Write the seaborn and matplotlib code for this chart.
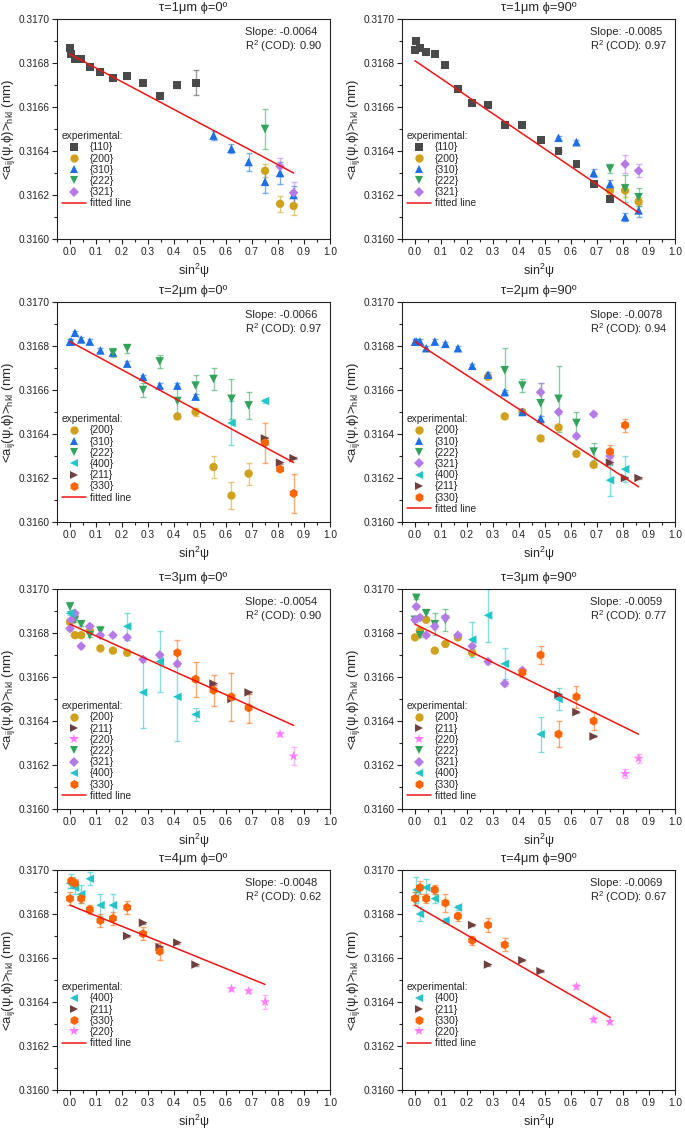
import matplotlib
matplotlib.use("Agg")
import matplotlib.pyplot as plt
import matplotlib.ticker as ticker
from matplotlib.lines import Line2D
import seaborn as sns

# panel headers and fit results
TITLES = ["τ=1μm ϕ=0º", "τ=1μm ϕ=90º", "τ=2μm ϕ=0º", "τ=2μm ϕ=90º",
          "τ=3μm ϕ=0º", "τ=3μm ϕ=90º", "τ=4μm ϕ=0º", "τ=4μm ϕ=90º"]
SLOPES = ["-0.0064", "-0.0085", "-0.0066", "-0.0078", "-0.0054", "-0.0059", "-0.0048", "-0.0069"]
R2 = ["0.90", "0.97", "0.97", "0.94", "0.90", "0.77", "0.62", "0.67"]
FIT_X = [[0.0, 0.86], [0.0, 0.86], [0.0, 0.86], [0.0, 0.86],
         [0.0, 0.86], [0.0, 0.86], [0.0, 0.75], [0.0, 0.75]]
FIT_Y = [[0.31684, 0.31630], [0.31681, 0.31612], [0.31682, 0.31627], [0.31682, 0.31616],
         [0.31684, 0.31638], [0.31684, 0.31634], [0.31684, 0.31648], [0.31684, 0.31633]]

# each series: (sin^2 psi, <a>, error)
P1 = {
    "{110}": ([0.0, 0.005, 0.019, 0.043, 0.076, 0.117, 0.165, 0.220, 0.281, 0.345, 0.413, 0.483],
              [0.31687, 0.31684, 0.31682, 0.31682, 0.31678, 0.31676, 0.31673, 0.31674, 0.31671, 0.31665, 0.31670, 0.31671],
              [0.000005, 0.000005, 0.000005, 0.000005, 0.000005, 0.000005, 0.000005, 0.000005, 0.000005, 0.000005, 0.000015, 0.000057]),
    "{200}": ([0.750, 0.808, 0.860], [0.31631, 0.31616, 0.31615], [0.00003, 0.000035, 0.00004]),
    "{310}": ([0.552, 0.621, 0.687, 0.750, 0.808, 0.860],
              [0.31647, 0.31641, 0.31635, 0.31626, 0.31630, 0.31620],
              [0.00002, 0.00002, 0.00004, 0.00005, 0.00005, 0.00004]),
    "{222}": ([0.750], [0.31650], [0.00009]),
    "{321}": ([0.808, 0.860], [0.31633, 0.31621], [0.00004, 0.00005]),
}
P2 = {
    "{110}": ([0.0, 0.005, 0.019, 0.043, 0.076, 0.117, 0.165, 0.220, 0.281, 0.345, 0.413, 0.483, 0.552, 0.621, 0.687, 0.750],
              [0.31686, 0.31690, 0.31687, 0.31685, 0.31684, 0.31679, 0.31668, 0.31662, 0.31661, 0.31652, 0.31652, 0.31645,
               0.31640, 0.31634, 0.31625, 0.31618],
              [0.000005] * 16),
    "{200}": ([0.750, 0.808, 0.860], [0.31622, 0.31622, 0.31617], [0.00002, 0.00003, 0.00002]),
    "{310}": ([0.552, 0.621, 0.687, 0.750, 0.808, 0.860],
              [0.31646, 0.31644, 0.31630, 0.31625, 0.31610, 0.31613],
              [0.00001, 0.00001, 0.00002, 0.00002, 0.00002, 0.00003]),
    "{222}": ([0.750, 0.808, 0.860], [0.31632, 0.31623, 0.31619], [0.00002, 0.00006, 0.00004]),
    "{321}": ([0.808, 0.860], [0.31634, 0.31631], [0.00004, 0.00003]),
}
P3 = {
    "{200}": ([0.413, 0.483, 0.552, 0.621, 0.687],
              [0.31648, 0.31650, 0.31625, 0.31612, 0.31622],
              [0.00001, 0.00002, 0.00005, 0.00006, 0.00005]),
    "{310}": ([0.0, 0.005, 0.019, 0.043, 0.076, 0.117, 0.165, 0.220, 0.281, 0.345, 0.413, 0.483],
              [0.31682, 0.31682, 0.31686, 0.31683, 0.31682, 0.31678, 0.31677, 0.31672, 0.31666, 0.31662, 0.31662, 0.31657],
              [0.00001] * 12),
    "{222}": ([0.165, 0.220, 0.281, 0.345, 0.413, 0.483, 0.552, 0.621, 0.687],
              [0.31677, 0.31679, 0.31660, 0.31673, 0.31655, 0.31662, 0.31665, 0.31656, 0.31653],
              [0.00002, 0.00002, 0.00003, 0.00003, 0.00007, 0.00005, 0.00005, 0.00009, 0.00006]),
    "{400}": ([0.621, 0.750], [0.31645, 0.31655], [0.0001, 0.00001]),
    "{211}": ([0.750, 0.808, 0.860], [0.31638, 0.31627, 0.31629], [0.000005, 0.000005, 0.000005]),
    "{330}": ([0.750, 0.808, 0.860], [0.31636, 0.31624, 0.31613], [0.00009, 0.00001, 0.00009]),
}
P4 = {
    "{200}": ([0.281, 0.345, 0.413, 0.483, 0.552, 0.621, 0.687],
              [0.31666, 0.31648, 0.31650, 0.31638, 0.31643, 0.31631, 0.31626],
              [0.00001] * 7),
    "{310}": ([0.0, 0.005, 0.019, 0.043, 0.076, 0.117, 0.165, 0.220, 0.281, 0.345, 0.413, 0.483],
              [0.31682, 0.31682, 0.31682, 0.31679, 0.31682, 0.31681, 0.31679, 0.31671, 0.31667, 0.31659, 0.31650, 0.31647],
              [0.00001] * 12),
    "{222}": ([0.345, 0.413, 0.483, 0.552, 0.621, 0.687],
              [0.31669, 0.31662, 0.31654, 0.31656, 0.31645, 0.31632],
              [0.0001, 0.00003, 0.00009, 0.00015, 0.00005, 0.00004]),
    "{321}": ([0.483, 0.552, 0.621, 0.687, 0.750],
              [0.31659, 0.31650, 0.31639, 0.31649, 0.31630],
              [0.00004, 0.00001, 0.00001, 0.00001, 0.00002]),
    "{400}": ([0.750, 0.808], [0.31619, 0.31624], [0.00007, 0.00006]),
    "{211}": ([0.750, 0.808, 0.860], [0.31627, 0.31620, 0.31620], [0.000005, 0.000005, 0.000005]),
    "{330}": ([0.750, 0.808], [0.31632, 0.31644], [0.00003, 0.00003]),
}
P5 = {
    "{200}": ([0.0, 0.019, 0.043, 0.076, 0.117, 0.165, 0.220],
              [0.31685, 0.31679, 0.31679, 0.31681, 0.31673, 0.31672, 0.31671],
              [0.000005] * 7),
    "{211}": ([0.552, 0.621, 0.687], [0.31657, 0.31650, 0.31653], [0.000005, 0.000005, 0.000005]),
    "{220}": ([0.808, 0.860], [0.31634, 0.31624], [0.00001, 0.00004]),
    "{222}": ([0.0, 0.019, 0.043, 0.076, 0.117],
              [0.31692, 0.31686, 0.31684, 0.31679, 0.31681],
              [0.00002, 0.00001, 0.00001, 0.00001, 0.00002]),
    "{321}": ([0.0, 0.005, 0.019, 0.043, 0.076, 0.117, 0.165, 0.220, 0.281, 0.345, 0.413],
              [0.31682, 0.31686, 0.31689, 0.31674, 0.31683, 0.31679, 0.31679, 0.31678, 0.31668, 0.31670, 0.31666],
              [0.00001] * 11),
    "{400}": ([0.0, 0.220, 0.281, 0.345, 0.413, 0.483],
              [0.31689, 0.31683, 0.31653, 0.31667, 0.31651, 0.31643],
              [0.00001, 0.00006, 0.00016, 0.00014, 0.0002, 0.00003]),
    "{330}": ([0.413, 0.483, 0.552, 0.621, 0.687],
              [0.31671, 0.31659, 0.31654, 0.31651, 0.31646],
              [0.00006, 0.00008, 0.00007, 0.00011, 0.00007]),
}
P6 = {
    "{200}": ([0.0, 0.019, 0.043, 0.076, 0.117, 0.165, 0.220],
              [0.31678, 0.31681, 0.31686, 0.31672, 0.31675, 0.31678, 0.31671],
              [0.000005] * 7),
    "{211}": ([0.552, 0.621, 0.687], [0.31652, 0.31644, 0.31633], [0.000005, 0.000005, 0.000005]),
    "{220}": ([0.808, 0.860], [0.31616, 0.31623], [0.00002, 0.00002]),
    "{222}": ([0.0, 0.005, 0.019, 0.043, 0.076, 0.117],
              [0.31686, 0.31696, 0.31679, 0.31689, 0.31684, 0.31686],
              [0.00001, 0.000005, 0.00001, 0.00002, 0.00005, 0.00005]),
    "{321}": ([0.0, 0.005, 0.019, 0.043, 0.076, 0.117, 0.165, 0.220, 0.281, 0.345, 0.413],
              [0.31686, 0.31692, 0.31687, 0.31679, 0.31683, 0.31687, 0.31679, 0.31674, 0.31667, 0.31657, 0.31663],
              [0.00001] * 11),
    "{400}": ([0.220, 0.281, 0.345, 0.483, 0.552],
              [0.31677, 0.31688, 0.31666, 0.31634, 0.31650],
              [0.00008, 0.00012, 0.00007, 0.00008, 0.00005]),
    "{330}": ([0.413, 0.483, 0.552, 0.621, 0.687],
              [0.31662, 0.31670, 0.31634, 0.31651, 0.31640],
              [0.00002, 0.00004, 0.00006, 0.00005, 0.00004]),
}
P7 = {
    "{400}": ([0.0, 0.005, 0.019, 0.043, 0.076, 0.117, 0.165],
              [0.31694, 0.31695, 0.31692, 0.31689, 0.31696, 0.31684, 0.31684],
              [0.00002, 0.00003, 0.00003, 0.00004, 0.00003, 0.00005, 0.00005]),
    "{211}": ([0.220, 0.281, 0.345, 0.413, 0.483],
              [0.31670, 0.31676, 0.31665, 0.31667, 0.31657],
              [0.000005] * 5),
    "{330}": ([0.0, 0.005, 0.019, 0.043, 0.076, 0.117, 0.165, 0.220, 0.281, 0.345],
              [0.31687, 0.31695, 0.31694, 0.31687, 0.31682, 0.31677, 0.31678, 0.31683, 0.31671, 0.31663],
              [0.00003, 0.00002, 0.00002, 0.00002, 0.00002, 0.00003, 0.00003, 0.00003, 0.00003, 0.00004]),
    "{220}": ([0.621, 0.687, 0.750], [0.31646, 0.31645, 0.31640], [0.00001, 0.00001, 0.00003]),
}
P8 = {
    "{400}": ([0.0, 0.005, 0.019, 0.043, 0.076, 0.117, 0.165],
              [0.31687, 0.31691, 0.31680, 0.31692, 0.31687, 0.31677, 0.31683],
              [0.00003, 0.00006, 0.00003, 0.00004, 0.00002, 0.00001, 0.00001]),
    "{211}": ([0.220, 0.281, 0.413, 0.483],
              [0.31675, 0.31657, 0.31659, 0.31654],
              [0.000005] * 4),
    "{330}": ([0.0, 0.019, 0.043, 0.076, 0.117, 0.165, 0.220, 0.281, 0.345],
              [0.31687, 0.31692, 0.31687, 0.31691, 0.31685, 0.31679, 0.31668, 0.31675, 0.31666],
              [0.00003, 0.00003, 0.00002, 0.00002, 0.00004, 0.00002, 0.00002, 0.00003, 0.00003]),
    "{220}": ([0.621, 0.687, 0.750], [0.31647, 0.31632, 0.31631], [0.00001, 0.00001, 0.00001]),
}
PANELS = [P1, P2, P3, P4, P5, P6, P7, P8]

MARKERS = {"{110}": "s", "{200}": "o", "{310}": "^", "{222}": "v", "{321}": "D",
           "{400}": "<", "{211}": ">", "{330}": "h", "{220}": "*"}
COLORS = {"{110}": "#4a4a4a", "{200}": "#cfa11c", "{310}": "#1e6ee6", "{222}": "#33a35c",
          "{321}": "#b47ae6", "{400}": "#22c5c8", "{211}": "#704040", "{330}": "#ff6400",
          "{220}": "#ff7dff"}
SIZES = {"{110}": 32, "{200}": 36, "{310}": 38, "{222}": 38, "{321}": 24,
         "{400}": 38, "{211}": 38, "{330}": 42, "{220}": 58}
FIT_COLOR = "#f01414"

sns.set_theme(style="ticks")
plt.rcParams["font.family"] = ["Liberation Sans", "DejaVu Sans"]
plt.rcParams["mathtext.fontset"] = "custom"
plt.rcParams["mathtext.rm"] = "Liberation Sans"
plt.rcParams["mathtext.it"] = "Liberation Sans:italic"

W, H = 685, 1131
COL_LEFT = [57, 402]
ROW_TOP = [19, 302, 589, 870]
AX_W, AX_H = 273, 220

fig = plt.figure(figsize=(W / 100, H / 100), dpi=100)

for i, series in enumerate(PANELS):
    row, col = divmod(i, 2)
    ax = fig.add_axes([COL_LEFT[col] / W, 1 - (ROW_TOP[row] + AX_H) / H, AX_W / W, AX_H / H])

    handles = []
    for name, (xs, ys, es) in series.items():
        c = COLORS[name]
        ax.errorbar(xs, ys, yerr=es, fmt="none", ecolor=c, alpha=0.55,
                    elinewidth=1.0, capsize=2.2, capthick=1.0, zorder=2)
        sns.scatterplot(x=xs, y=ys, ax=ax, marker=MARKERS[name], color=c,
                        s=SIZES[name], edgecolor="none", linewidth=0, zorder=3, legend=False)
        handles.append(Line2D([], [], ls="none", marker=MARKERS[name], color=c,
                              markersize=SIZES[name] ** 0.5, markeredgewidth=0, label=name))

    sns.lineplot(x=FIT_X[i], y=FIT_Y[i], ax=ax, color=FIT_COLOR, linewidth=1.1, zorder=4)
    handles.append(Line2D([], [], color=FIT_COLOR, linewidth=1.1, label="fitted line"))

    ax.set_xlim(-0.05, 1.0)
    ax.set_ylim(0.3160, 0.3170)
    ax.xaxis.set_major_locator(ticker.MultipleLocator(0.1))
    ax.xaxis.set_minor_locator(ticker.MultipleLocator(0.05))
    ax.yaxis.set_major_locator(ticker.MultipleLocator(0.0002))
    ax.yaxis.set_minor_locator(ticker.MultipleLocator(0.0001))
    ax.xaxis.set_major_formatter(ticker.FormatStrFormatter("%.1f"))
    ax.yaxis.set_major_formatter(ticker.FormatStrFormatter("%.4f"))
    ax.tick_params(which="both", direction="out", width=0.8, colors="#222222",
                   labelsize=7.3, top=False, right=False, pad=2)
    ax.tick_params(which="major", length=3.5)
    ax.tick_params(which="minor", length=2)
    for sp in ax.spines.values():
        sp.set_visible(True)
        sp.set_linewidth(0.8)
        sp.set_color("#222222")

    ax.set_title(TITLES[i], fontsize=9.3, pad=6)
    ax.set_xlabel(r"sin$^\mathregular{2}$ψ", fontsize=9, labelpad=4)
    ax.set_ylabel(r"<a$_\mathregular{ij}$(ψ,ϕ)>$_\mathregular{hkl}$ (nm)", fontsize=9.5, labelpad=1)

    ax.text(0.69, 0.965, f"Slope: {SLOPES[i]}\nR$^\\mathregular{{2}}$ (COD): {R2[i]}",
            transform=ax.transAxes, ha="left", va="top", fontsize=8, linespacing=1.15)

    leg = ax.legend(handles=handles, loc="upper left", bbox_to_anchor=(0.01, 0.50),
                    frameon=False, title="experimental:", alignment="left",
                    fontsize=7.4, title_fontsize=7.4, handlelength=2.4, handletextpad=0.3,
                    labelspacing=0.12, borderaxespad=0.0, borderpad=0.2)

fig.savefig("out.png", dpi=100)
